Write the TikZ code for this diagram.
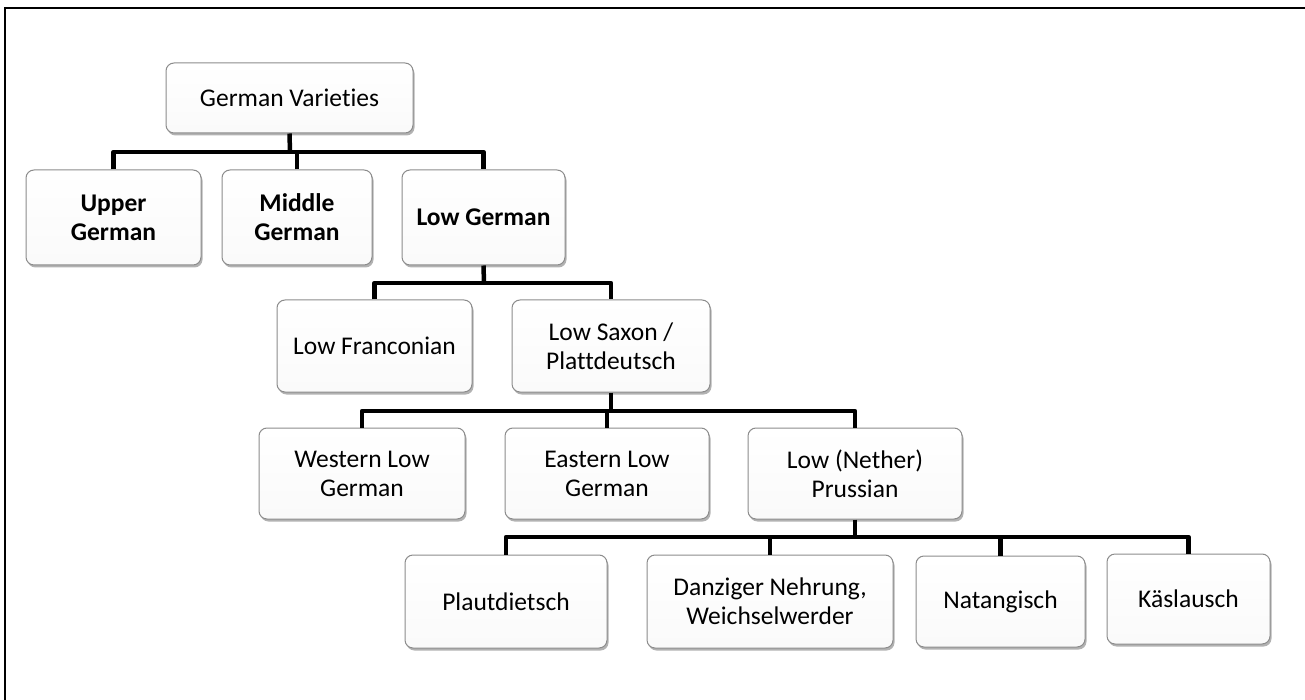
\documentclass[tikz,border=0pt]{standalone}
\usepackage{fontspec}
\setmainfont{Carlito}[Ligatures={NoCommon}]
\usetikzlibrary{shadows}
\tikzset{
  vbox/.style={draw=black!45, line width=1pt, rounded corners=8pt,
    top color=white, bottom color=black!2, align=center, inner sep=2pt,
    font=\fontsize{25.5}{29}\selectfont,
    drop shadow={shadow xshift=1.5pt, shadow yshift=-2.5pt, opacity=0.3, fill=black}},
  boldbox/.style={vbox, font=\fontsize{25.5}{29}\selectfont\bfseries},
  conn/.style={line width=4.5pt, line join=round, black}
}
\begin{document}
\begin{tikzpicture}[x=1pt,y=-1pt]
\useasboundingbox (0,0) rectangle (1305,700);
\fill[white] (0,0) rectangle (1305,700);
\draw[line width=2pt] (1310,8) -- (5,8) -- (5,705);
% nodes
\node[vbox, minimum width=247pt, minimum height=70pt] (root) at (289.5,98) {German Varieties};
\node[boldbox, minimum width=175pt, minimum height=95pt] (upper) at (113.5,217.5) {Upper\\German};
\node[boldbox, minimum width=150pt, minimum height=95pt] (middle) at (297,217.5) {Middle\\German};
\node[boldbox, minimum width=163pt, minimum height=95pt] (low) at (483.5,217.5) {Low German};
\node[vbox, minimum width=195pt, minimum height=92pt] (lowfr) at (374.5,346) {Low Franconian};
\node[vbox, minimum width=198pt, minimum height=92pt] (lowsax) at (611,346) {Low Saxon /\\Plattdeutsch};
\node[vbox, minimum width=206pt, minimum height=91pt] (western) at (362,473.5) {Western Low\\German};
\node[vbox, minimum width=204pt, minimum height=91pt] (eastern) at (607,473.5) {Eastern Low\\German};
\node[vbox, minimum width=214pt, minimum height=91pt] (prussian) at (855,473.5) {Low (Nether)\\Prussian};
\node[vbox, minimum width=202pt, minimum height=93pt] (plaut) at (506,601.5) {Plautdietsch};
\node[vbox, minimum width=246pt, minimum height=93pt] (danz) at (770,601.5) {Danziger Nehrung,\\Weichselwerder};
\node[vbox, minimum width=169pt, minimum height=91pt] (nat) at (1000.5,601.5) {Natangisch};
\node[vbox, minimum width=163pt, minimum height=90pt] (kas) at (1188.5,599) {Käslausch};
% junctions
\coordinate (j1) at (290,152);
\coordinate (j2) at (484,283);
\coordinate (j3) at (611,411);
\coordinate (j4) at (855,537);
% connectors
\draw[conn] (root.south) -- (j1);
\draw[conn] (upper.north) |- (j1) -| (low.north);
\draw[conn] (middle.north) -- (middle.north |- j1);
\draw[conn] (low.south) -- (j2);
\draw[conn] (lowfr.north) |- (j2) -| (lowsax.north);
\draw[conn] (lowsax.south) -- (j3);
\draw[conn] (western.north) |- (j3) -| (prussian.north);
\draw[conn] (eastern.north) -- (eastern.north |- j3);
\draw[conn] (prussian.south) -- (j4);
\draw[conn] (plaut.north) |- (j4) -| (kas.north);
\draw[conn] (danz.north) -- (danz.north |- j4);
\draw[conn] (nat.north) -- (nat.north |- j4);
\end{tikzpicture}
\end{document}
